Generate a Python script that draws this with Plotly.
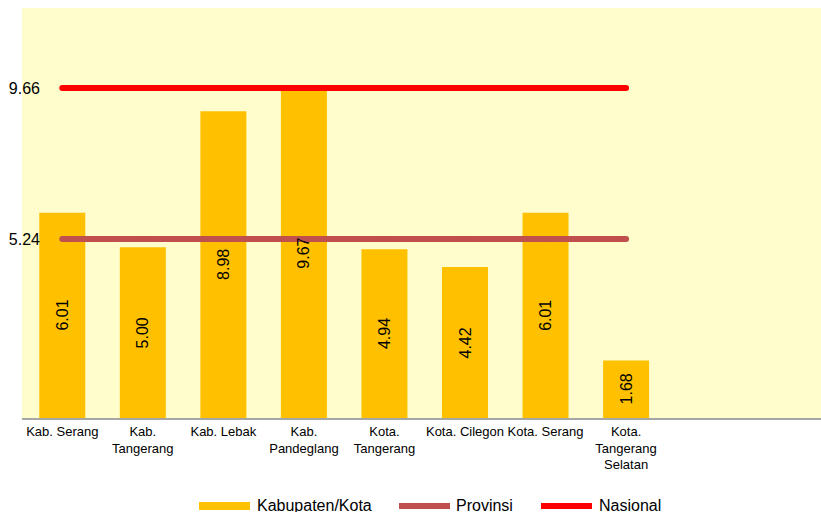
import plotly.graph_objects as go

# ---- data ----
categories = ["Kab. Serang", "Kab.<br>Tangerang", "Kab. Lebak", "Kab.<br>Pandeglang",
              "Kota.<br>Tangerang", "Kota. Cilegon", "Kota. Serang",
              "Kota.<br>Tangerang<br>Selatan"]
kab_values = [6.01, 5.00, 8.98, 9.67, 4.94, 4.42, 6.01, 1.68]
provinsi_value = 5.24
nasional_value = 9.66
series_names = ["Kabupaten/Kota", "Provinsi", "Nasional"]
y_tick_vals = [5.24, 9.66]
y_tick_text = ["5.24", "9.66"]

# ---- style ----
FONT = "Liberation Sans, Arial, sans-serif"
C_BAR = "#FFC000"
C_PROV = "#C0504D"
C_NAS = "#FF0000"
W, H = 821, 512
PL, PR, PT, PB = 22, 821, 8, 418


def px_x(p):
    return (p - PL) / (PR - PL)


def px_y(p):
    return (PB - p) / (PB - PT)


fig = go.Figure()
fig.add_trace(go.Bar(
    x=categories, y=kab_values, name=series_names[0],
    marker=dict(color=C_BAR, line=dict(width=0)),
    width=0.571, showlegend=False, hoverinfo="skip",
))
fig.add_trace(go.Scatter(
    x=categories, y=[provinsi_value] * len(categories), name=series_names[1],
    mode="lines+markers", line=dict(color=C_PROV, width=6),
    marker=dict(color=C_PROV, size=6), showlegend=False, hoverinfo="skip",
))
fig.add_trace(go.Scatter(
    x=categories, y=[nasional_value] * len(categories), name=series_names[2],
    mode="lines+markers", line=dict(color=C_NAS, width=6),
    marker=dict(color=C_NAS, size=6), showlegend=False, hoverinfo="skip",
))

annotations = []
# bar value labels (drawn above the lines, centred in each bar)
for cat, v in zip(categories, kab_values):
    annotations.append(dict(
        text=f"{v:.2f}", x=cat, y=v / 2, xref="x", yref="y",
        textangle=-90, showarrow=False, xanchor="center", yanchor="middle",
        font=dict(family=FONT, size=16, color="black")))

# ---- manual legend ----
leg_y = 506
shapes = [
    dict(type="rect", xref="paper", yref="paper",
         x0=px_x(199), x1=px_x(250), y0=px_y(510), y1=px_y(502),
         fillcolor=C_BAR, line=dict(width=0)),
    dict(type="line", xref="paper", yref="paper",
         x0=px_x(399), x1=px_x(450), y0=px_y(leg_y), y1=px_y(leg_y),
         line=dict(color=C_PROV, width=6)),
    dict(type="line", xref="paper", yref="paper",
         x0=px_x(541), x1=px_x(592), y0=px_y(leg_y), y1=px_y(leg_y),
         line=dict(color=C_NAS, width=6)),
]
for name, xp in zip(series_names, [255, 454, 597]):
    annotations.append(dict(
        text=name, xref="paper", yref="paper", x=px_x(xp), y=px_y(505),
        xanchor="left", yanchor="middle", showarrow=False,
        font=dict(family=FONT, size=16, color="black")))

fig.update_layout(
    width=W, height=H,
    margin=dict(l=PL, r=W - PR, t=PT, b=H - PB, pad=0),
    paper_bgcolor="white", plot_bgcolor="#FFFDCC",
    font=dict(family=FONT, color="black"),
    showlegend=False, hovermode=False,
    shapes=shapes, annotations=annotations,
)
fig.update_xaxes(
    type="category", range=[-0.5, 9.42], showgrid=False, zeroline=False,
    showline=True, linecolor="#A6A6A6", linewidth=2, ticks="",
    tickfont=dict(family=FONT, size=13, color="black"), automargin=False,
)
fig.update_yaxes(
    range=[0, 12], showgrid=False, zeroline=False, showline=False,
    tickvals=y_tick_vals, ticktext=y_tick_text, ticks="",
    tickfont=dict(family=FONT, size=16, color="black"),
    ticklabelstandoff=-19, automargin=False,
)

fig.write_html("out.html")
